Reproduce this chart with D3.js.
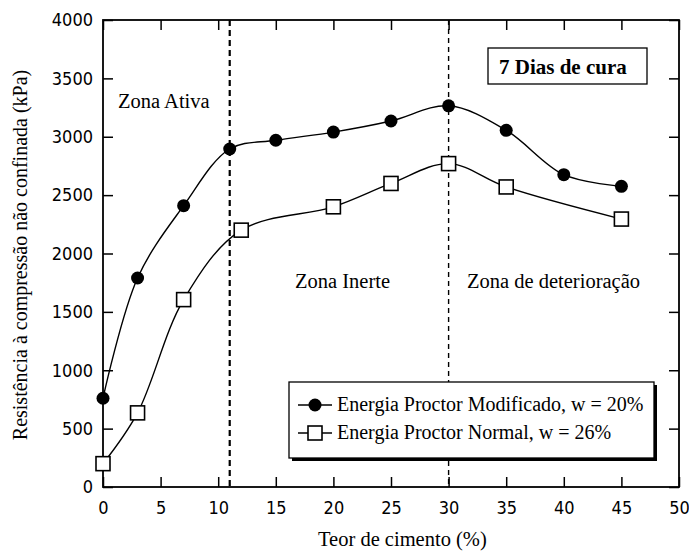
<!DOCTYPE html>
<html>
<head>
<meta charset="utf-8">
<script src="https://cdn.jsdelivr.net/npm/d3@7"></script>
<style>
  html, body { margin: 0; padding: 0; background: #fff; }
  svg { display: block; }
</style>
</head>
<body>
<svg id="chart" width="689" height="554"></svg>
<script>
// Cement content (%) and unconfined compressive strength (kPa), 7 days of curing
const modCement = [0, 3, 7, 11, 15, 20, 25, 30, 35, 40, 45];
const modStrength = [760, 1790, 2410, 2895, 2970, 3040, 3135, 3265, 3055, 2675, 2575];
const normCement = [0, 3, 7, 12, 20, 25, 30, 35, 45];
const normStrength = [200, 635, 1605, 2200, 2400, 2600, 2770, 2570, 2295];

const xTicks = [0, 5, 10, 15, 20, 25, 30, 35, 40, 45, 50];
const yTicks = [0, 500, 1000, 1500, 2000, 2500, 3000, 3500, 4000];
const zoneBounds = [11, 30];
const seriesNames = ["Energia Proctor Modificado, w = 20%", "Energia Proctor Normal, w = 26%"];

const svg = d3.select("#chart");
const pLeft = 103, pRight = 679, pTop = 20, pBottom = 487;

const x = d3.scaleLinear().domain([0, 50]).range([pLeft, pRight]);
const y = d3.scaleLinear().domain([0, 4000]).range([pBottom, pTop]);

const serif = "'Liberation Serif', 'Times New Roman', serif";
const tickFont = "'DejaVu Sans Condensed', 'DejaVu Sans', sans-serif";

// Zone boundaries
svg.append("line")
  .attr("x1", x(zoneBounds[0])).attr("x2", x(zoneBounds[0]))
  .attr("y1", pTop).attr("y2", pBottom)
  .attr("stroke", "#000").attr("stroke-width", 2.2).attr("stroke-dasharray", "6,4");
svg.append("line")
  .attr("x1", x(zoneBounds[1])).attr("x2", x(zoneBounds[1]))
  .attr("y1", pTop).attr("y2", pBottom)
  .attr("stroke", "#000").attr("stroke-width", 1.4).attr("stroke-dasharray", "5,4");

// Axes with inward ticks on all four sides
const tickLen = 10;
const axisB = d3.axisBottom(x).tickValues(xTicks).tickSize(-tickLen).tickPadding(14).tickFormat(d3.format("d"));
const axisL = d3.axisLeft(y).tickValues(yTicks).tickSize(-tickLen).tickPadding(10).tickFormat(d3.format("d"));
const axisT = d3.axisTop(x).tickValues(xTicks).tickSize(-tickLen).tickFormat("");
const axisR = d3.axisRight(y).tickValues(yTicks).tickSize(-tickLen).tickFormat("");

function styleAxis(g) {
  g.select(".domain").remove();
  g.selectAll(".tick line").attr("stroke", "#000").attr("stroke-width", 1.5);
  g.selectAll(".tick text").attr("fill", "#000")
    .style("font-family", tickFont).style("font-size", "18px");
}
svg.append("g").attr("transform", `translate(0,${pBottom})`).call(axisB).call(styleAxis);
svg.append("g").attr("transform", `translate(${pLeft},0)`).call(axisL).call(styleAxis);
svg.append("g").attr("transform", `translate(0,${pTop})`).call(axisT).call(styleAxis);
svg.append("g").attr("transform", `translate(${pRight},0)`).call(axisR).call(styleAxis);

// Plot frame
svg.append("rect")
  .attr("x", pLeft).attr("y", pTop).attr("width", pRight - pLeft).attr("height", pBottom - pTop)
  .attr("fill", "none").attr("stroke", "#000").attr("stroke-width", 1.8);

// Curves
const line = d3.line().x(d => x(d[0])).y(d => y(d[1])).curve(d3.curveCatmullRom.alpha(0.5));
const modData = modCement.map((c, i) => [c, modStrength[i]]);
const normData = normCement.map((c, i) => [c, normStrength[i]]);

svg.append("path").datum(modData).attr("d", line)
  .attr("fill", "none").attr("stroke", "#000").attr("stroke-width", 1.4);
svg.append("path").datum(normData).attr("d", line)
  .attr("fill", "none").attr("stroke", "#000").attr("stroke-width", 1.4);

svg.selectAll("circle.mod").data(modData).enter().append("circle")
  .attr("class", "mod")
  .attr("cx", d => x(d[0])).attr("cy", d => y(d[1])).attr("r", 6.5)
  .attr("fill", "#000");

const sq = 14;
svg.selectAll("rect.norm").data(normData).enter().append("rect")
  .attr("class", "norm")
  .attr("x", d => x(d[0]) - sq / 2).attr("y", d => y(d[1]) - sq / 2)
  .attr("width", sq).attr("height", sq)
  .attr("fill", "#fff").attr("stroke", "#000").attr("stroke-width", 1.6);

// Zone labels
const zoneLabel = (t, lx, by) => svg.append("text")
  .attr("x", lx).attr("y", by)
  .style("font-family", serif).style("font-size", "20.5px").text(t);
zoneLabel("Zona Ativa", 118, 108);
zoneLabel("Zona Inerte", 295, 288);
zoneLabel("Zona de deterioração", 467, 288);

// Curing-time box
svg.append("rect").attr("x", 488).attr("y", 48).attr("width", 159).attr("height", 36)
  .attr("fill", "#fff").attr("stroke", "#000").attr("stroke-width", 1.3);
svg.append("text").attr("x", 499).attr("y", 74)
  .style("font-family", serif).style("font-size", "21px").style("font-weight", "bold")
  .text("7 Dias de cura");

// Legend with drop shadow
const lg = svg.append("g");
lg.append("rect").attr("x", 292).attr("y", 385).attr("width", 365).attr("height", 76).attr("fill", "#000");
lg.append("rect").attr("x", 289).attr("y", 382).attr("width", 365).attr("height", 76)
  .attr("fill", "#fff").attr("stroke", "#000").attr("stroke-width", 1.3);
const rows = [405, 433];
rows.forEach((ry, i) => {
  lg.append("line").attr("x1", 298).attr("x2", 332).attr("y1", ry).attr("y2", ry)
    .attr("stroke", "#000").attr("stroke-width", 1.4);
  if (i === 0) {
    lg.append("circle").attr("cx", 315).attr("cy", ry).attr("r", 6.5).attr("fill", "#000");
  } else {
    lg.append("rect").attr("x", 315 - 7).attr("y", ry - 7).attr("width", 14).attr("height", 14)
      .attr("fill", "#fff").attr("stroke", "#000").attr("stroke-width", 1.6);
  }
  lg.append("text").attr("x", 337).attr("y", ry + 6)
    .style("font-family", serif).style("font-size", "20px").text(seriesNames[i]);
});

// Axis titles
svg.append("text").attr("x", 318).attr("y", 546)
  .style("font-family", serif).style("font-size", "20.5px").text("Teor de cimento (%)");
svg.append("text").attr("transform", `translate(27,255) rotate(-90)`)
  .attr("text-anchor", "middle")
  .style("font-family", serif).style("font-size", "20px")
  .text("Resistência à compressão não confinada (kPa)");
</script>
</body>
</html>
